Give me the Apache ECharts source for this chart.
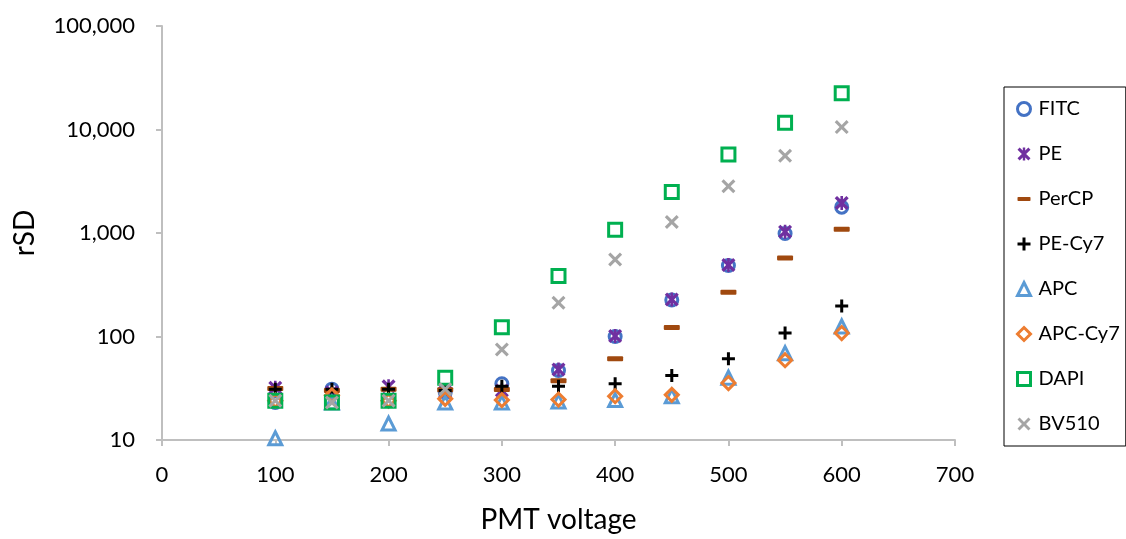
<!DOCTYPE html>
<html><head><meta charset="utf-8">
<script src="https://cdn.jsdelivr.net/npm/echarts@6/dist/echarts.min.js"></script>
<style>html,body{margin:0;padding:0;background:#fff}#chart{width:1126px;height:539px}</style>
</head><body><div id="chart"></div>
<script>
// ---- data ----
const voltages = [100, 150, 200, 250, 300, 350, 400, 450, 500, 550, 600];
const FITC    = [23, 31, 24, 29, 35, 47, 100, 225, 486, 990, 1778];
const PE      = [32, 29, 33, 29, 30, 48, 101, 228, 490, 1030, 1954];
const PerCP   = [31.5, 30, 31, 30.5, 30.7, 37.4, 61, 122, 268, 574, 1087];
const PECy7   = [31, 31, 31, 30, 33, 33, 35, 42, 61, 108, 197];
const APC     = [10.4, 23, 14.4, 23, 23, 23.6, 24.3, 26.5, 40, 69, 125];
const APCCy7  = [24, 27, 24, 25, 24.3, 24.6, 26.5, 27.3, 35.5, 59, 108];
const DAPI    = [24, 23, 24, 40, 123, 385, 1073, 2489, 5741, 11590, 22430];
const BV510   = [24, 23, 24, 31, 75, 212, 555, 1279, 2826, 5586, 10550];
const seriesNames = ['FITC', 'PE', 'PerCP', 'PE-Cy7', 'APC', 'APC-Cy7', 'DAPI', 'BV510'];
const seriesValues = [FITC, PE, PerCP, PECy7, APC, APCCy7, DAPI, BV510];

// ---- marker styles ----
const PLUS = 'path://M5,0H8V5H13V8H8V13H5V8H0V5H5Z';
const CROSS = 'path://M0,2.2L2.2,0L7,4.8L11.8,0L14,2.2L9.2,7L14,11.8L11.8,14L7,9.2L2.2,14L0,11.8L4.8,7Z';
const STAR = 'path://M0,2.3L2.3,0L7,4.7L11.7,0L14,2.3L9.3,7L14,11.7L11.7,14L7,9.3L2.3,14L0,11.7L4.7,7Z M5.7,0H8.3V14H5.7Z';
const DASH = 'path://M1,0H15Q16,0 16,1V4Q16,5 15,5H1Q0,5 0,4V1Q0,0 1,0Z';
const markers = [
  {symbol: 'circle', size: 12, style: {color: 'rgba(0,0,0,0)', borderColor: '#4472C4', borderWidth: 3}},
  {symbol: STAR, size: 14, style: {color: '#7030A0', borderWidth: 0}},
  {symbol: DASH, size: [16, 5], style: {color: '#A0490F', borderWidth: 0}},
  {symbol: PLUS, size: 13, style: {color: '#000000', borderWidth: 0}},
  {symbol: 'triangle', size: 13, style: {color: 'rgba(0,0,0,0)', borderColor: '#5B9BD5', borderWidth: 3}},
  {symbol: 'diamond', size: 13, style: {color: 'rgba(0,0,0,0)', borderColor: '#ED7D31', borderWidth: 3}},
  {symbol: 'rect', size: 13, style: {color: 'rgba(0,0,0,0)', borderColor: '#00B050', borderWidth: 3}},
  {symbol: CROSS, size: 14, style: {color: '#A5A5A5', borderWidth: 0}}
];

const series = seriesNames.map((name, i) => ({
  name: name,
  type: 'scatter',
  data: voltages.map((v, j) => [v, seriesValues[i][j]]),
  symbol: markers[i].symbol,
  symbolSize: markers[i].size,
  symbolKeepAspect: false,
  itemStyle: Object.assign({opacity: 1}, markers[i].style),
  emphasis: {disabled: true},
  silent: true
}));

const legendData = seriesNames.map((name, i) => ({
  name: name,
  icon: markers[i].symbol,
  itemStyle: Object.assign({opacity: 1}, markers[i].style)
}));

const FONT = 'Lato';
const chart = echarts.init(document.getElementById('chart'), null, {renderer: 'canvas'});
chart.setOption({
  animation: false,
  backgroundColor: '#ffffff',
  grid: {left: 162, right: 171, top: 26, bottom: 94, containLabel: false},
  legend: {
    orient: 'vertical',
    left: 1004, top: 87,
    data: legendData,
    itemWidth: 13, itemHeight: 13,
    itemGap: 25,
    padding: [12, 6, 12, 12],
    borderColor: '#000', borderWidth: 1,
    selectedMode: false,
    symbolKeepAspect: true,
    textStyle: {fontFamily: FONT, fontSize: 20, color: '#000', lineHeight: 20, padding: [0, 0, 0, 3]}
  },
  xAxis: {
    type: 'value', min: 0, max: 700, interval: 100,
    name: 'PMT voltage', nameLocation: 'middle', nameGap: 66,
    nameTextStyle: {fontFamily: FONT, fontSize: 28, color: '#000'},
    axisLine: {show: true, onZero: false, lineStyle: {color: '#BFBFBF', width: 2}},
    axisTick: {show: true, length: 6, lineStyle: {color: '#BFBFBF', width: 2}},
    axisLabel: {fontFamily: FONT, fontSize: 22, color: '#000', margin: 24},
    splitLine: {show: false}
  },
  yAxis: {
    type: 'log', logBase: 10, min: 10, max: 100000,
    name: 'rSD', nameLocation: 'middle', nameGap: 123,
    nameTextStyle: {fontFamily: FONT, fontSize: 28, color: '#000'},
    axisLine: {show: true, onZero: false, lineStyle: {color: '#BFBFBF', width: 2}},
    axisTick: {show: true, length: 6, lineStyle: {color: '#BFBFBF', width: 2}},
    axisLabel: {fontFamily: FONT, fontSize: 22, color: '#000', margin: 27,
      formatter: v => Number(v).toLocaleString('en-US')},
    splitLine: {show: false}
  },
  series: series
});
</script></body></html>
